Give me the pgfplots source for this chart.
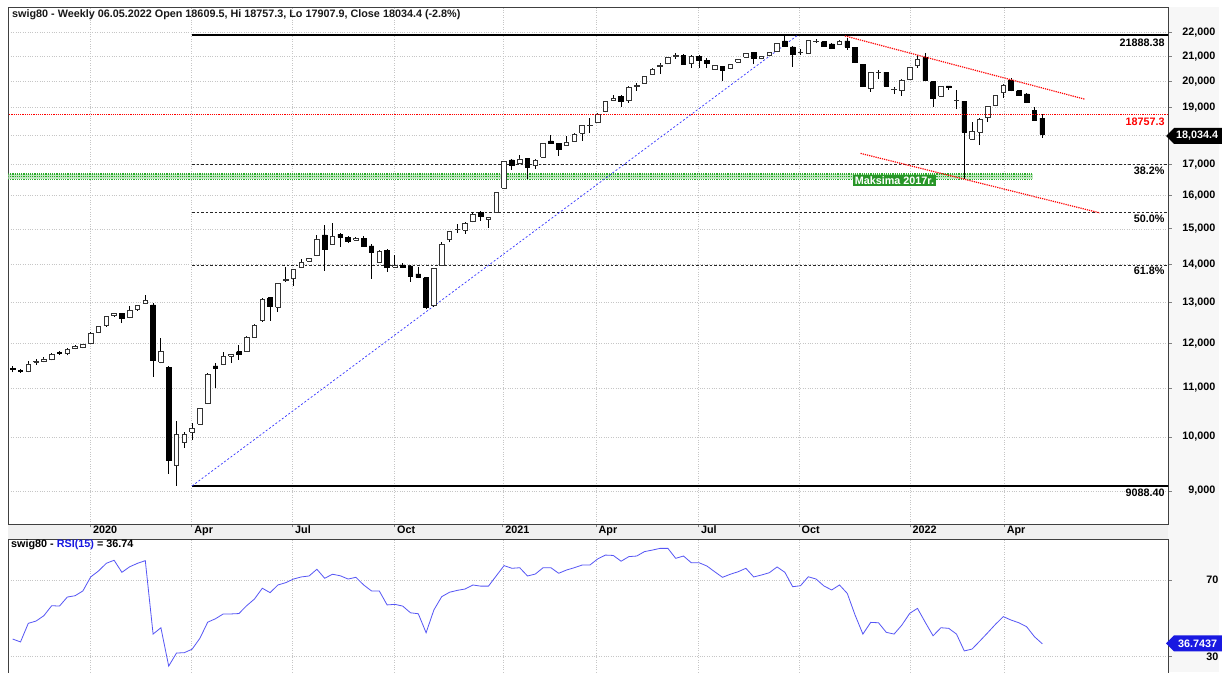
\documentclass[border=0pt]{standalone}
\usepackage{pgfplots}
\pgfplotsset{compat=1.18}
\usepackage{pgfplotstable}
\usepackage{fontspec}
\setmainfont{Liberation Sans}
\definecolor{rsiblue}{RGB}{85,85,245}
\definecolor{tagblue}{RGB}{25,25,225}
\definecolor{mgreen}{RGB}{40,150,40}
\definecolor{lgreen}{RGB}{195,232,195}
\definecolor{dgreen}{RGB}{40,170,40}
\newcommand{\lf}{\bfseries\fontsize{10.8}{13}\selectfont}

\pgfplotstableread{
i o h l c d
0 11420 11470 11340 11400 1
1 11380 11410 11330 11360 1
2 11357 11595 11340 11527 0
3 11570 11640 11500 11585 0
4 11580 11680 11560 11640 0
5 11634 11780 11610 11750 0
6 11790 11810 11740 11760 1
7 11770 11880 11724 11863 0
8 11870 11950 11860 11925 0
9 11900 11990 11880 11970 0
10 12000 12260 11990 12237 0
11 12252 12420 12240 12398 0
12 12437 12660 12398 12641 0
13 12658 12740 12640 12725 0
14 12725 12740 12479 12609 1
15 12617 12908 12600 12800 0
16 12807 12940 12790 12916 0
17 12964 13187 12950 13040 0
18 12932 12983 11247 11618 1
19 11566 12120 11540 11808 0
20 11446 11480 9305 9548 1
21 9450 10322 9089 10052 0
22 9889 10104 9792 10052 0
23 10091 10272 9941 10171 0
24 10250 10580 10240 10561 0
25 10678 11320 10660 11299 0
26 11483 11544 10996 11432 1
27 11522 11808 11500 11696 0
28 11696 11750 11544 11736 0
29 11808 11963 11618 11749 1
30 11817 12170 11800 12150 0
31 12143 12460 12130 12437 0
32 12536 13100 12520 13079 0
33 13112 13130 12536 12907 1
34 12882 13500 12765 13480 0
35 13552 13918 13530 13597 0
36 13623 13870 13421 13845 0
37 13918 14153 13900 14054 0
38 14090 14170 14070 14153 0
39 14236 14822 14220 14707 0
40 14822 15115 13818 14415 1
41 14563 15167 14540 14773 0
42 14842 14870 14488 14756 1
43 14756 14780 14600 14630 1
44 14678 14760 14650 14727 0
45 14727 14793 14490 14510 1
46 14510 14563 13613 14339 1
47 14062 14390 14040 14367 0
48 14386 14410 13797 13918 1
49 13918 14255 13900 13962 0
50 13981 14045 13890 13918 1
51 13954 13980 13534 13684 1
52 13737 13918 13620 13650 1
53 13640 13660 12820 12864 1
54 12916 13910 12890 13891 0
55 13981 14612 13960 14555 0
56 14707 14940 14612 14918 0
57 14975 15138 14871 14995 0
58 14967 15190 14851 15167 0
59 15210 15499 15190 15417 0
60 15499 15520 15240 15362 1
61 15282 15360 15034 15343 0
62 15499 16120 15480 16096 0
63 16234 17120 16210 17097 0
64 17154 17180 16823 16964 1
65 17043 17322 17020 17187 0
66 17197 17220 16530 16899 1
67 16977 17180 16866 17154 0
68 17244 17730 17220 17708 0
69 17800 18013 17700 17720 1
70 17708 17730 17298 17525 1
71 17648 17978 17630 17766 0
72 17790 18070 17770 18048 0
73 18077 18360 17800 18343 0
74 18340 18606 18077 18360 0
75 18462 18780 18440 18762 0
76 18847 19260 18830 19244 0
77 19280 19454 19244 19340 0
78 19430 19450 19011 19218 1
79 19255 19800 19180 19778 0
80 19800 19922 19627 19830 0
81 19922 20200 19900 20180 0
82 20282 20500 20260 20480 0
83 20563 20723 20294 20643 0
84 20684 20950 20660 20934 0
85 20980 21139 20893 21010 0
86 21045 21070 20660 20684 1
87 20684 21030 20523 21003 0
88 21003 21030 20523 20844 1
89 20832 20914 20523 20696 1
90 20467 20630 20450 20611 0
91 20587 20610 19995 20442 1
92 20491 20690 20470 20671 0
93 20750 20890 20730 20873 0
94 20950 21120 20930 21101 0
95 21160 21180 20670 20897 1
96 20897 21020 20880 21003 0
97 21033 21160 21010 21143 0
98 21187 21550 21170 21527 0
99 21631 21888 21390 21415 1
100 21381 21400 20577 21058 1
101 21140 21287 21045 21160 0
102 21118 21670 21100 21645 0
103 21600 21700 21540 21630 0
104 21600 21630 21390 21415 1
105 21502 21530 21300 21331 1
106 21485 21650 21460 21631 0
107 21631 21760 21254 21368 1
108 21356 21380 20710 20734 1
109 20671 20690 19770 19790 1
110 19725 20370 19595 20350 0
111 20330 20442 20077 20350 0
112 20350 20370 19800 19817 1
113 19680 19790 19510 19700 0
114 19632 20070 19446 20047 0
115 20077 20550 20060 20534 0
116 20643 21045 20523 20873 0
117 20938 21131 19990 20020 1
118 19980 20000 19011 19345 1
119 19430 19810 19410 19790 0
120 19817 19830 19660 19751 1
121 19250 19660 18933 19270 0
122 19232 19250 16520 18113 1
123 17860 18484 17840 18137 0
124 18113 18600 17657 18580 0
125 18643 19040 18484 19024 0
126 19081 19480 19060 19461 0
127 19558 19880 19360 19858 0
128 20047 20130 19610 19632 1
129 19632 19650 19440 19467 1
130 19507 19530 19160 19180 1
131 18909 19011 18520 18544 1
132 18609.5 18757.3 17907.9 18034.4 1
}\candles

\pgfplotstableread{
i r
0 39.2
1 37.7
2 47.4
3 48.6
4 51.4
5 56.6
6 56.4
7 61.1
8 61.8
9 64.3
10 71.6
11 74.7
12 78.7
13 80.3
14 74.0
15 76.9
16 78.7
17 80.1
18 41.8
19 45.1
20 25.1
21 31.9
22 32.1
23 33.9
24 39.6
25 48.0
26 49.8
27 52.3
28 52.3
29 52.5
30 56.6
31 60.1
32 65.7
33 63.4
34 67.4
35 68.6
36 70.5
37 71.6
38 72.1
39 75.6
40 70.9
41 73.0
42 72.2
43 70.5
44 71.4
45 67.4
46 64.3
47 64.3
48 57.0
49 57.3
50 56.4
51 52.9
52 52.4
53 42.5
54 54.4
55 61.3
56 63.6
57 64.6
58 65.3
59 67.4
60 66.8
61 66.8
62 72.2
63 77.5
64 76.1
65 76.4
66 72.1
67 73.1
68 76.4
69 76.4
70 73.5
71 75.2
72 76.4
73 77.8
74 77.8
75 81.0
76 83.0
77 82.8
78 79.8
79 82.2
80 82.5
81 84.8
82 85.6
83 86.5
84 86.5
85 81.3
86 82.5
87 79.0
88 79.0
89 77.3
90 74.3
91 71.4
92 73.0
93 74.3
94 76.1
95 71.6
96 72.6
97 73.8
98 76.8
99 74.0
100 66.5
101 67.0
102 71.7
103 70.5
104 66.9
105 64.8
106 67.4
107 63.0
108 51.7
109 41.8
110 47.9
111 47.7
112 42.7
113 41.8
114 46.5
115 52.6
116 55.2
117 47.9
118 40.9
119 45.1
120 44.8
121 41.8
122 33.0
123 34.0
124 38.2
125 42.5
126 46.9
127 50.9
128 49.1
129 47.7
130 45.6
131 40.4
132 36.74
}\rsi

\pgfplotsset{
  wick/.style={black, line width=0.9pt, mark=none, forget plot},
  downbody/.style={draw=black, fill=black, line width=0.7pt, mark=none, forget plot},
  upbody/.style={draw=black!80, fill=white, line width=0.8pt, mark=none, forget plot},
}

\begin{document}
\begin{tikzpicture}
\useasboundingbox (0pt,0pt) rectangle (1222pt,672pt);
\fill[white] (0pt,0pt) rectangle (1222pt,672pt);
\fill[gray!6] (1168pt,0pt) rectangle (1219pt,665pt);
\fill[gray!12] (8.3pt,133pt) rectangle (1168pt,148pt);

\begin{axis}[
  at={(8.3pt,148pt)}, anchor=south west,
  scale only axis, width=1159.7pt, height=516.7pt,
  xmin=-0.564, xmax=148.12,
  ymode=log, ymin=8439.6, ymax=23098,
  axis line style={draw=black!75, line width=0.8pt},
  xtick={9.97,22.95,35.87,48.95,62.83,74.78,87.91,100.8,115.04,127.1},
  xticklabels={2020,Apr,Jul,Oct,2021,Apr,Jul,Oct,2022,Apr},
  xtick pos=bottom,
  ytick={9000,10000,11000,12000,13000,14000,15000,16000,17000,18000,19000,20000,21000,22000},
  yticklabels={{9,000},{10,000},{11,000},{12,000},{13,000},{14,000},{15,000},{16,000},{17,000},{},{19,000},{20,000},{21,000},{22,000}},
  ytick pos=right, yticklabel pos=right,
  tick align=outside, major tick length=3.5pt,
  tick style={gray, line width=0.6pt},
  minor tick num=0,
  ticklabel style={font=\lf},
  xticklabel style={anchor=north west, inner sep=0pt, xshift=2.5pt, yshift=1.5pt},
  yticklabel style={anchor=east, inner sep=0pt, xshift=44pt},
  grid=major,
  major grid style={gray!45, dotted, line width=0.5pt},
]
% green support band
\addplot[fill=lgreen, draw=none, forget plot] coordinates {(-0.6,16521) (130.8,16521) (130.8,16692) (-0.6,16692)};
\addplot[dgreen, densely dotted, line width=1.2pt, forget plot] coordinates {(-0.6,16692) (130.8,16692)};
\addplot[dgreen, densely dotted, line width=1.2pt, forget plot] coordinates {(-0.6,16606) (130.8,16606)};
\addplot[dgreen, densely dotted, line width=1.2pt, forget plot] coordinates {(-0.6,16521) (130.8,16521)};
% fibonacci
\addplot[black, line width=1.4pt, forget plot] coordinates {(23,21888.38) (149,21888.38)};
\addplot[black, line width=1.4pt, forget plot] coordinates {(23,9088.40) (149,9088.40)};
\addplot[black!85, dash pattern=on 2.5pt off 2pt, line width=0.7pt, forget plot] coordinates {(23,16998.8) (149,16998.8)};
\addplot[black!85, dash pattern=on 2.5pt off 2pt, line width=0.7pt, forget plot] coordinates {(23,15488.4) (149,15488.4)};
\addplot[black!85, dash pattern=on 2.5pt off 2pt, line width=0.7pt, forget plot] coordinates {(23,13978.0) (149,13978.0)};
% blue diagonal
\addplot[blue!80, dash pattern=on 2pt off 2pt, line width=0.7pt, forget plot] coordinates {(23,9088.4) (100.7,21888.38)};

% candles
\pgfplotstablegetrowsof{\candles}
\pgfmathtruncatemacro{\lastrow}{\pgfplotsretval-1}
\pgfplotsforeachungrouped \r in {0,...,\lastrow}{%
  \pgfplotstablegetelem{\r}{i}\of\candles \let\ci\pgfplotsretval
  \pgfplotstablegetelem{\r}{o}\of\candles \let\co\pgfplotsretval
  \pgfplotstablegetelem{\r}{h}\of\candles \let\ch\pgfplotsretval
  \pgfplotstablegetelem{\r}{l}\of\candles \let\cl\pgfplotsretval
  \pgfplotstablegetelem{\r}{c}\of\candles \let\cc\pgfplotsretval
  \pgfplotstablegetelem{\r}{d}\of\candles \let\cd\pgfplotsretval
  \pgfmathsetmacro{\xa}{\ci-0.3}%
  \pgfmathsetmacro{\xb}{\ci+0.3}%
  \edef\doit{%
    \noexpand\addplot[wick] coordinates {(\ci,\cl) (\ci,\ch)};%
    \noexpand\addplot[\ifnum\cd=1 downbody\else upbody\fi] coordinates {(\xa,\co) (\xb,\co) (\xb,\cc) (\xa,\cc) (\xa,\co)};%
  }\doit
}

% red lines
\addplot[red, densely dotted, line width=1.2pt, forget plot] coordinates {(-1,18757.3) (149,18757.3)};
\addplot[red, densely dotted, line width=1.2pt, forget plot] coordinates {(106.7,21842) (137.5,19307)};
\addplot[red, densely dotted, line width=1.2pt, forget plot] coordinates {(108.7,17376) (139.4,15471)};

% labels
\node[anchor=east, font=\lf, inner sep=0pt, yshift=-7.5pt] at (axis cs:147.7,21888.38) {21888.38};
\node[anchor=east, font=\lf, inner sep=0pt, yshift=-7pt] at (axis cs:147.7,9088.40) {9088.40};
\node[anchor=east, font=\lf, inner sep=0pt, yshift=-6pt] at (axis cs:147.7,16998.8) {38.2\%};
\node[anchor=east, font=\lf, inner sep=0pt, yshift=-6pt] at (axis cs:147.7,15488.4) {50.0\%};
\node[anchor=east, font=\lf, inner sep=0pt, yshift=-6pt] at (axis cs:147.7,13978.0) {61.8\%};
\node[anchor=east, font=\lf, text=red, inner sep=0pt, yshift=-7.5pt] at (axis cs:147.7,18757.3) {18757.3};
\node[fill=mgreen, text=white, font=\lf, inner sep=1.5pt] at (axis cs:113.05,16467) {Maksima 2017r.};
\end{axis}

\begin{axis}[
  at={(8.3pt,-5pt)}, anchor=south west,
  scale only axis, width=1159.7pt, height=138pt,
  xmin=-0.564, xmax=148.12,
  ymin=19.41, ymax=91.38,
  axis line style={draw=black!75, line width=0.8pt},
  xtick={9.97,22.95,35.87,48.95,62.83,74.78,87.91,100.8,115.04,127.1},
  xticklabels={},
  ytick={30,70}, yticklabels={30,70},
  ytick pos=right, yticklabel pos=right,
  tick align=outside, major tick length=3.5pt,
  xtick style={draw=none},
  ytick style={gray, line width=0.6pt},
  ticklabel style={font=\lf},
  yticklabel style={anchor=east, inner sep=0pt, xshift=47pt},
  grid=major,
  major grid style={gray!45, dotted, line width=0.5pt},
]
\addplot[rsiblue, line width=0.8pt, mark=none] table[x=i, y=r] {\rsi};
\end{axis}

% right tags
\fill[black] (1166pt,536pt) -- (1174pt,544pt) -- (1222pt,544pt) -- (1222pt,528pt) -- (1174pt,528pt) -- cycle;
\node[anchor=west, text=white, font=\lf, inner sep=0pt] at (1176pt,536pt) {18,034.4};
\fill[tagblue] (1166pt,28.7pt) -- (1174pt,36.7pt) -- (1222pt,36.7pt) -- (1222pt,20.7pt) -- (1174pt,20.7pt) -- cycle;
\node[anchor=west, text=white, font=\lf, inner sep=0pt] at (1178pt,28.7pt) {36.7437};

% titles
\node[anchor=west, font=\lf, text=black!90, inner sep=0pt] at (12pt,657pt) {swig80 - Weekly 06.05.2022 Open 18609.5, Hi 18757.3, Lo 17907.9, Close 18034.4 (-2.8\%)};
\node[anchor=west, font=\lf, inner sep=0pt] at (11pt,127pt) {swig80 - \textcolor{tagblue}{RSI(15)} = 36.74};
\end{tikzpicture}
\end{document}
